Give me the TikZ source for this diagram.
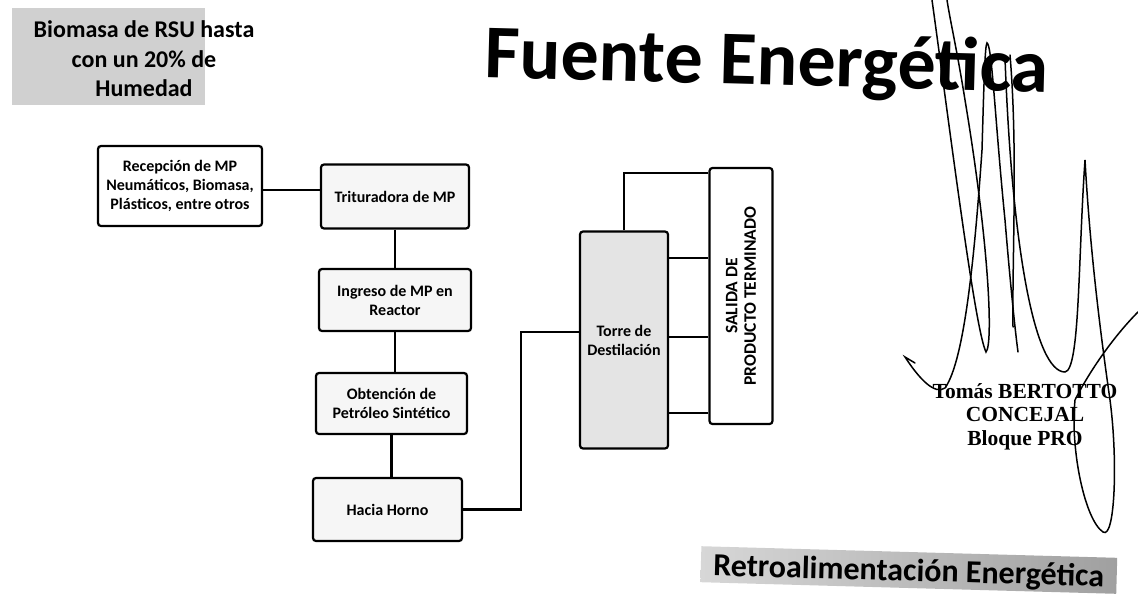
\documentclass[tikz,border=0pt]{standalone}
\usepackage{fontspec}
\setmainfont{Carlito}
\newfontfamily\sellofont{Liberation Serif}
\usepackage{tikz}
\definecolor{gris}{RGB}{208, 208, 208}
\definecolor{grisretroa}{RGB}{215, 215, 215}
\definecolor{grisretrob}{RGB}{160, 160, 160}
\definecolor{gristorre}{RGB}{228, 228, 228}
\definecolor{griscaja}{RGB}{246, 246, 246}

\begin{document}
\begin{tikzpicture}[x=1pt,y=-1pt, % y hacia abajo, como en la hoja
	caja/.style={draw, line width=2.2pt, rounded corners=3pt, fill=griscaja, align=center, inner sep=1pt, font=\bfseries\fontsize{16}{19}\selectfont},
	linea/.style={line width=2.4pt},
	firma/.style={line width=1.5pt, line cap=round}]
	\useasboundingbox (0,0) rectangle (1138,597);
	% recuadro gris de arriba
	\fill[gris] (12,8) rectangle (205,105);
	\node[align=center, inner sep=0pt, font=\bfseries\fontsize{24}{29.5}\selectfont] (biomasa) at (144,58.7) {Biomasa de RSU hasta\\con un 20\% de\\Humedad};
	\node[anchor=base, rotate=-1.5, inner sep=0pt, font=\bfseries\fontsize{76}{80}\selectfont] (titulo) at (766.5,85) {Fuente Energética};
	% cajas del proceso
	\node[caja, minimum width=164, minimum height=80, fill=white] (recepcion) at (180,186) {Recepción de MP\\Neumáticos, Biomasa,\\Plásticos, entre otros};
	\node[caja, minimum width=148, minimum height=64] (trituradora) at (395,196.5) {Trituradora de MP};
	\node[caja, minimum width=152, minimum height=62] (ingreso) at (395,300) {Ingreso de MP en\\Reactor};
	\node[caja, minimum width=151, minimum height=61] (obtencion) at (391.5,403.5) {Obtención de\\Petróleo Sintético};
	\node[caja, minimum width=149, minimum height=63] (horno) at (387.5,509.5) {Hacia Horno};
	\node[caja, minimum width=88, minimum height=217, fill=gristorre] (torre) at (624,340) {Torre de\\Destilación};
	\node[caja, rotate=90, minimum width=256, minimum height=63, fill=white, font=\bfseries\fontsize{17.5}{18.5}\selectfont] (salida) at (741,296) {SALIDA DE\\PRODUCTO TERMINADO};
	% conexiones
	\draw[linea] (recepcion.east |- 0,190) -- (trituradora.west |- 0,190);
	\draw[linea] (trituradora.south) -- (trituradora.south |- ingreso.north);
	\draw[linea] (ingreso.south) -- (ingreso.south |- obtencion.north);
	\draw[linea] (obtencion.south) -- (obtencion.south |- horno.north);
	\coordinate (codo) at (521,332);
	\draw[linea] (horno.east) -| (codo) -- (codo -| torre.west);
	\draw[linea] (torre.north) |- (salida.north |- 0,173);
	\foreach \yy in {258,337,413}{
		\draw[linea] (torre.east |- 0,\yy) -- (salida.north |- 0,\yy);}
	\node[anchor=base, rotate=-1.6, left color=grisretroa, right color=grisretrob, minimum width=416, text height=29, text depth=7, inner ysep=0pt, font=\bfseries\fontsize{32}{34}\selectfont] (retro) at (908.5,581) {Retroalimentación Energética};
	% sello y firma
	\node[anchor=north, inner sep=0pt, align=center, font=\sellofont\bfseries\fontsize{21.5}{23.5}\selectfont] (sello) at (1025,383) {Tomás BERTOTTO\\CONCEJAL\\Bloque PRO};
	\draw[firma] (932,0) .. controls (950,130) and (975,330) .. (986,352) .. controls (993,345) and (990,250) .. (965,100) .. controls (957,50) and (950,20) .. (947,0);
	\draw[firma] (915,363) -- (905,357) .. controls (920,380) and (935,395) .. (945,388) .. controls (965,360) and (975,250) .. (982,150) .. controls (984,80) and (985,45) .. (987,43) .. controls (992,45) and (995,120) .. (1005,220) .. controls (1010,280) and (1015,330) .. (1018,352);
	\draw[firma] (1010,55) .. controls (1018,150) and (1012,260) .. (1013,327);
	\draw[firma] (1005,58) .. controls (1012,250) and (1035,372) .. (1065,372) .. controls (1080,370) and (1078,260) .. (1085,160) .. controls (1090,250) and (1100,330) .. (1110,400) .. controls (1118,460) and (1115,540) .. (1103,532) .. controls (1085,520) and (1070,450) .. (1075,400) .. controls (1090,370) and (1115,335) .. (1138,312);
\end{tikzpicture}
\end{document}
